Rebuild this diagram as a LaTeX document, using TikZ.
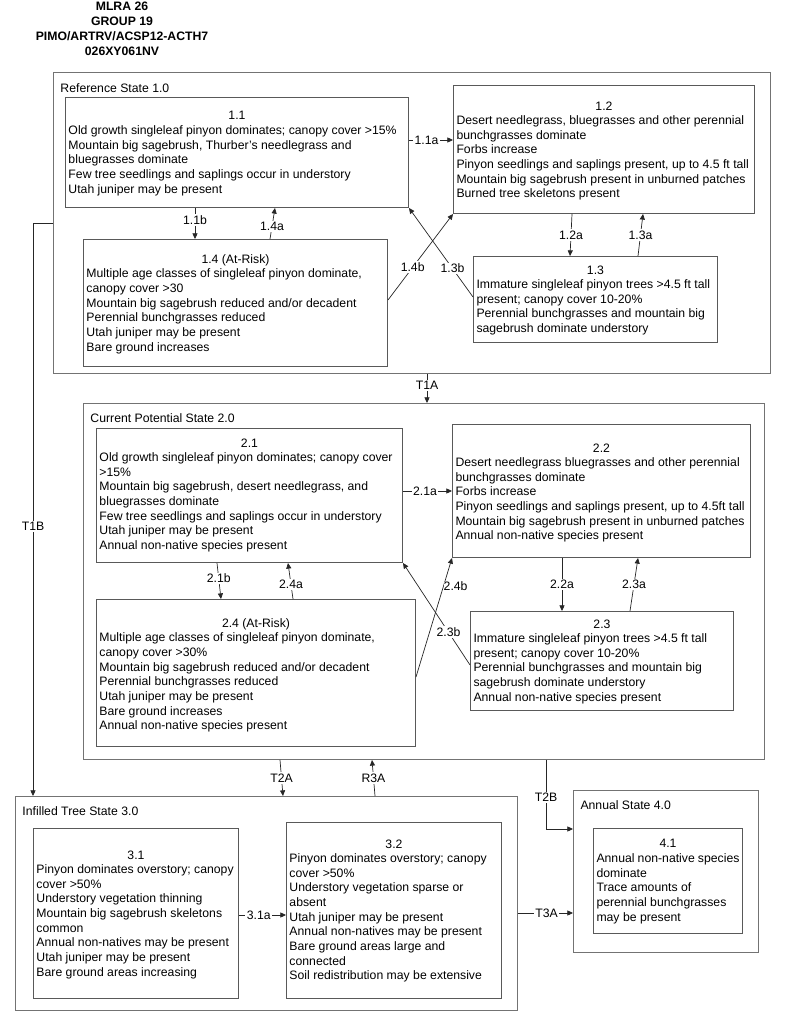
\documentclass[tikz,border=0pt]{standalone}
\usepackage{fontspec}
\setmainfont{Liberation Sans}
\usetikzlibrary{arrows.meta}
\newdimen\pxu
\pxu=0.025cm
\newcommand\sttext[5]{\parbox[c][#2\pxu][t]{#1\pxu}{\vspace*{#3\pxu}\centering #4\par\raggedright #5\par}}
\newcommand\sthead[4]{\parbox[c][#2\pxu][t]{#1\pxu}{\vspace*{#3\pxu}\raggedright #4\par}}
\tikzset{
  stframe/.style={draw=black!55, line width=0.7pt, anchor=north west, inner xsep=7\pxu, inner ysep=0pt},
  stbox/.style={draw=black!65, line width=0.7pt, anchor=north west, inner xsep=3\pxu, inner ysep=0pt},
  stline/.style={draw=black!85, line width=0.5pt, -{Triangle[length=4pt,width=3.6pt]}},
  stlab/.style={fill=white, inner sep=1pt},
}

\begin{document}
\begin{tikzpicture}[x=0.025cm, y=-0.025cm, font=\fontsize{8.7}{10.4}\selectfont]
\useasboundingbox (0,0) rectangle (800,1023);
\node[font=\bfseries\fontsize{8.7}{10.7}\selectfont, align=center] (hdr) at (122,29)
  {MLRA 26\\GROUP 19\\PIMO/ARTRV/ACSP12-ACTH7\\026XY061NV};
% state frames
\node[stframe] (o1) at (53,72) {\sthead{703}{301}{11}{Reference State 1.0}};
\node[stframe] (o2) at (83,403) {\sthead{667}{356}{10}{Current Potential State 2.0}};
\node[stframe] (o3) at (15,796) {\sthead{488}{214}{10}{Infilled Tree State 3.0}};
\node[stframe] (o4) at (573,790) {\sthead{171}{162}{10}{Annual State 4.0}};
% community phases
\node[stbox] (s11) at (65,97) {\sttext{337}{110}{14}{1.1}{Old growth singleleaf pinyon dominates; canopy cover >15\%\\
  Mountain big sagebrush, Thurber’s needlegrass and\\bluegrasses dominate\\
  Few tree seedlings and saplings occur in understory\\Utah juniper may be present}};
\node[stbox] (s12) at (453,85) {\sttext{295}{128}{16}{1.2}{Desert needlegrass, bluegrasses and other perennial\\
  bunchgrasses dominate\\Forbs increase\\Pinyon seedlings and saplings present, up to 4.5 ft tall\\
  Mountain big sagebrush present in unburned patches\\Burned tree skeletons present}};
\node[stbox] (s13) at (473,256) {\sttext{238}{86}{9}{1.3}{Immature singleleaf pinyon trees >4.5 ft tall\\
  present; canopy cover 10-20\%\\Perennial bunchgrasses and mountain big\\sagebrush dominate understory}};
\node[stbox] (s14) at (83,239) {\sttext{298}{127}{15}{1.4 (At-Risk)}{Multiple age classes of singleleaf pinyon dominate,\\
  canopy cover >30\\Mountain big sagebrush reduced and/or decadent\\Perennial bunchgrasses reduced\\
  Utah juniper may be present\\Bare ground increases}};
\node[stbox] (s21) at (96,428) {\sttext{300}{134}{10}{2.1}{Old growth singleleaf pinyon dominates; canopy cover\\>15\%\\
  Mountain big sagebrush, desert needlegrass, and\\bluegrasses dominate\\
  Few tree seedlings and saplings occur in understory\\Utah juniper may be present\\Annual non-native species present}};
\node[stbox] (s22) at (452,424) {\sttext{292}{133}{19}{2.2}{Desert needlegrass bluegrasses and other perennial\\
  bunchgrasses dominate\\Forbs increase\\Pinyon seedlings and saplings present, up to 4.5ft tall\\
  Mountain big sagebrush present in unburned patches\\Annual non-native species present}};
\node[stbox] (s23) at (470,611) {\sttext{257}{99}{8}{2.3}{Immature singleleaf pinyon trees >4.5 ft tall\\
  present; canopy cover 10-20\%\\Perennial bunchgrasses and mountain big\\sagebrush dominate understory\\
  Annual non-native species present}};
\node[stbox] (s24) at (96,599) {\sttext{313}{147}{19}{2.4 (At-Risk)}{Multiple age classes of singleleaf pinyon dominate,\\
  canopy cover >30\%\\Mountain big sagebrush reduced and/or decadent\\Perennial bunchgrasses reduced\\
  Utah juniper may be present\\Bare ground increases\\Annual non-native species present}};
\node[stbox] (s31) at (33,828) {\sttext{199}{170}{22}{3.1}{Pinyon dominates overstory; canopy\\cover >50\%\\
  Understory vegetation thinning\\Mountain big sagebrush skeletons\\common\\
  Annual non-natives may be present\\Utah juniper may be present\\Bare ground areas increasing}};
\node[stbox] (s32) at (286,822) {\sttext{209}{176}{17}{3.2}{Pinyon dominates overstory; canopy\\cover >50\%\\
  Understory vegetation sparse or\\absent\\Utah juniper may be present\\Annual non-natives may be present\\
  Bare ground areas large and\\connected\\Soil redistribution may be extensive}};
\node[stbox] (s41) at (593,828) {\sttext{143}{105}{11}{4.1}{Annual non-native species\\dominate\\
  Trace amounts of\\perennial bunchgrasses\\may be present}};
% pathways within states
\draw[stline] (s11.east |- 0,140) -- node[stlab, pos=.4] (l11a) {1.1a} (s12.west |- 0,140);
\draw[stline] (195,0 |- s11.south) -- node[stlab, pos=.4] (l11b) {1.1b} (195,0 |- s14.north);
\draw[stline] (270,0 |- s14.north) -- node[stlab, pos=.4] (l14a) {1.4a} (275,0 |- s11.south);
\draw[stline] (572,0 |- s12.south) -- node[stlab, pos=.5] (l12a) {1.2a} (570,0 |- s13.north);
\draw[stline] (638,0 |- s13.north) -- node[stlab, pos=.5] (l13a) {1.3a} (643,0 |- s12.south);
\draw[stline] (s14.east |- 0,300) -- node[stlab, pos=.38] (l14b) {1.4b} (s12.south west);
\draw[stline] (s13.west |- 0,297) -- node[stlab, pos=.32] (l13b) {1.3b} (s11.south east);
\draw[stline] (s21.east |- 0,491) -- node[stlab, pos=.45] (l21a) {2.1a} (s22.west |- 0,491);
\draw[stline] (217,0 |- s21.south) -- node[stlab, pos=.43] (l21b) {2.1b} (221,0 |- s24.north);
\draw[stline] (293,0 |- s24.north) -- node[stlab, pos=.4] (l24a) {2.4a} (288,0 |- s21.south);
\draw[stline] (562,0 |- s22.south) -- node[stlab, pos=.5] (l22a) {2.2a} (562,0 |- s23.north);
\draw[stline] (630,0 |- s23.north) -- node[stlab, pos=.5] (l23a) {2.3a} (638,0 |- s22.south);
\draw[stline] (s24.east |- 0,677) -- node[stlab, pos=.76, anchor=west, inner sep=0pt] (l24b) {2.4b} (s22.south west);
\draw[stline] (s23.west |- 0,665) -- node[stlab, pos=.32] (l23b) {2.3b} (s21.south east);
\draw[stline] (s31.east |- 0,915) -- node[stlab, pos=.42] (l31a) {3.1a} (s32.west |- 0,915);
% transitions between states
\coordinate (t1bend) at (33,223);
\coordinate (t2bend) at (546,829);
\draw[stline] (427,0 |- o1.south) -- node[stlab, pos=.4] (lt1a) {T1A} (427,0 |- o2.north);
\draw[stline] (o1.west |- t1bend) -- (t1bend) -- node[stlab, pos=.53] (lt1b) {T1B} (t1bend |- o3.north);
\draw[stline] (280,0 |- o2.south) -- node[stlab, pos=.5] (lt2a) {T2A} (283,0 |- o3.north);
\draw[stline] (375,0 |- o3.north) -- node[stlab, pos=.5] (lr3a) {R3A} (372,0 |- o2.south);
\draw[stline] (t2bend |- o2.south) -- node[stlab, pos=.54] (lt2b) {T2B} (t2bend) -- (t2bend -| o4.west);
\draw[stline] (o3.east |- 0,913) -- node[stlab, pos=.52] (lt3a) {T3A} (o4.west |- 0,913);
\end{tikzpicture}
\end{document}
